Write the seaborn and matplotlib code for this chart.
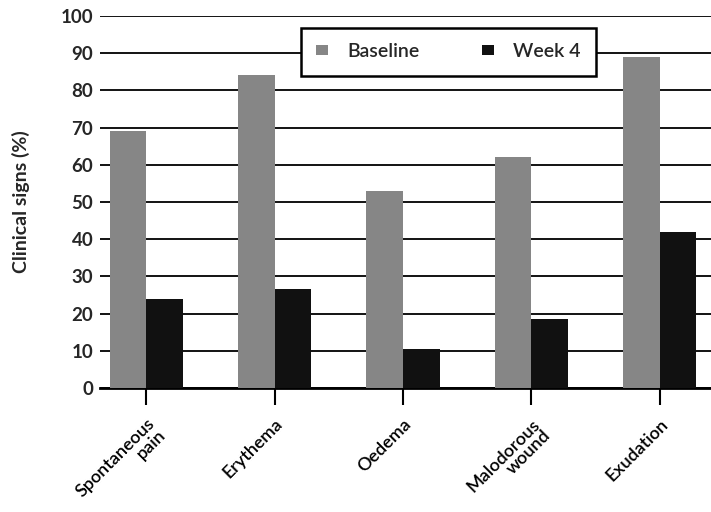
import pandas as pd
import seaborn as sns
import matplotlib.pyplot as plt

# 数据
categories = ['Spontaneous\npain', 'Erythema', 'Oedema', 'Malodorous\nwound', 'Exudation']
baseline = [69, 84, 53, 62, 89]
week4 = [24, 26.5, 10.5, 18.5, 42]
series_names = ['Baseline', 'Week 4']

df = pd.DataFrame({
    'sign': categories * 2,
    'value': baseline + week4,
    'time': [series_names[0]] * len(categories) + [series_names[1]] * len(categories),
})

sns.set_theme(style='white', rc={'xtick.bottom': True, 'xtick.major.size': 12,
                                 'xtick.major.width': 1.5, 'xtick.color': 'black'})
plt.rcParams['font.family'] = ['Lato', 'DejaVu Sans']

fig = plt.figure(figsize=(7.11, 5.12), dpi=100)
ax = fig.add_axes([0.141, 0.242, 0.859, 0.727])

sns.barplot(data=df, x='sign', y='value', hue='time', palette=['#868686', '#111111'],
            width=0.57, gap=0, saturation=1, linewidth=0, edgecolor='none', ax=ax, zorder=3)

ax.set_ylim(0, 100)
ax.set_xlim(-0.36, 4.4)
ax.set_yticks(range(0, 101, 10))
ax.yaxis.grid(True, color='black', linewidth=1.3, zorder=0)
ax.set_axisbelow(True)

for s in ['left', 'right', 'top']:
    ax.spines[s].set_visible(False)
ax.spines['bottom'].set_color('black')
ax.spines['bottom'].set_linewidth(2)

ax.tick_params(axis='y', length=0, pad=5, labelsize=13.5)
ax.tick_params(axis='x', bottom=True, length=12, width=1.5, color='black', direction='out', pad=8)
for t in ax.get_yticklabels():
    t.set_fontweight('bold')
ax.set_xticks(range(len(categories)))
ax.set_xticklabels(categories, rotation=45, ha='right', rotation_mode='anchor',
                   fontsize=13, fontweight='semibold', multialignment='right', linespacing=0.95)

ax.set_xlabel('')
ax.set_ylabel('Clinical signs (%)', fontsize=14, fontweight='bold', labelpad=22)

leg = ax.legend(loc='upper center', bbox_to_anchor=(0.57, 0.968), ncol=2, frameon=True,
                fancybox=False, edgecolor='black', fontsize=14, handlelength=0.6,
                handleheight=0.4, borderpad=0.8, columnspacing=3.2, handletextpad=1.0,
                borderaxespad=0)
leg.get_frame().set_linewidth(1.8)
leg.get_frame().set_alpha(1)
for t in leg.get_texts():
    t.set_fontweight('semibold')

fig.savefig('out.png', dpi=100)
